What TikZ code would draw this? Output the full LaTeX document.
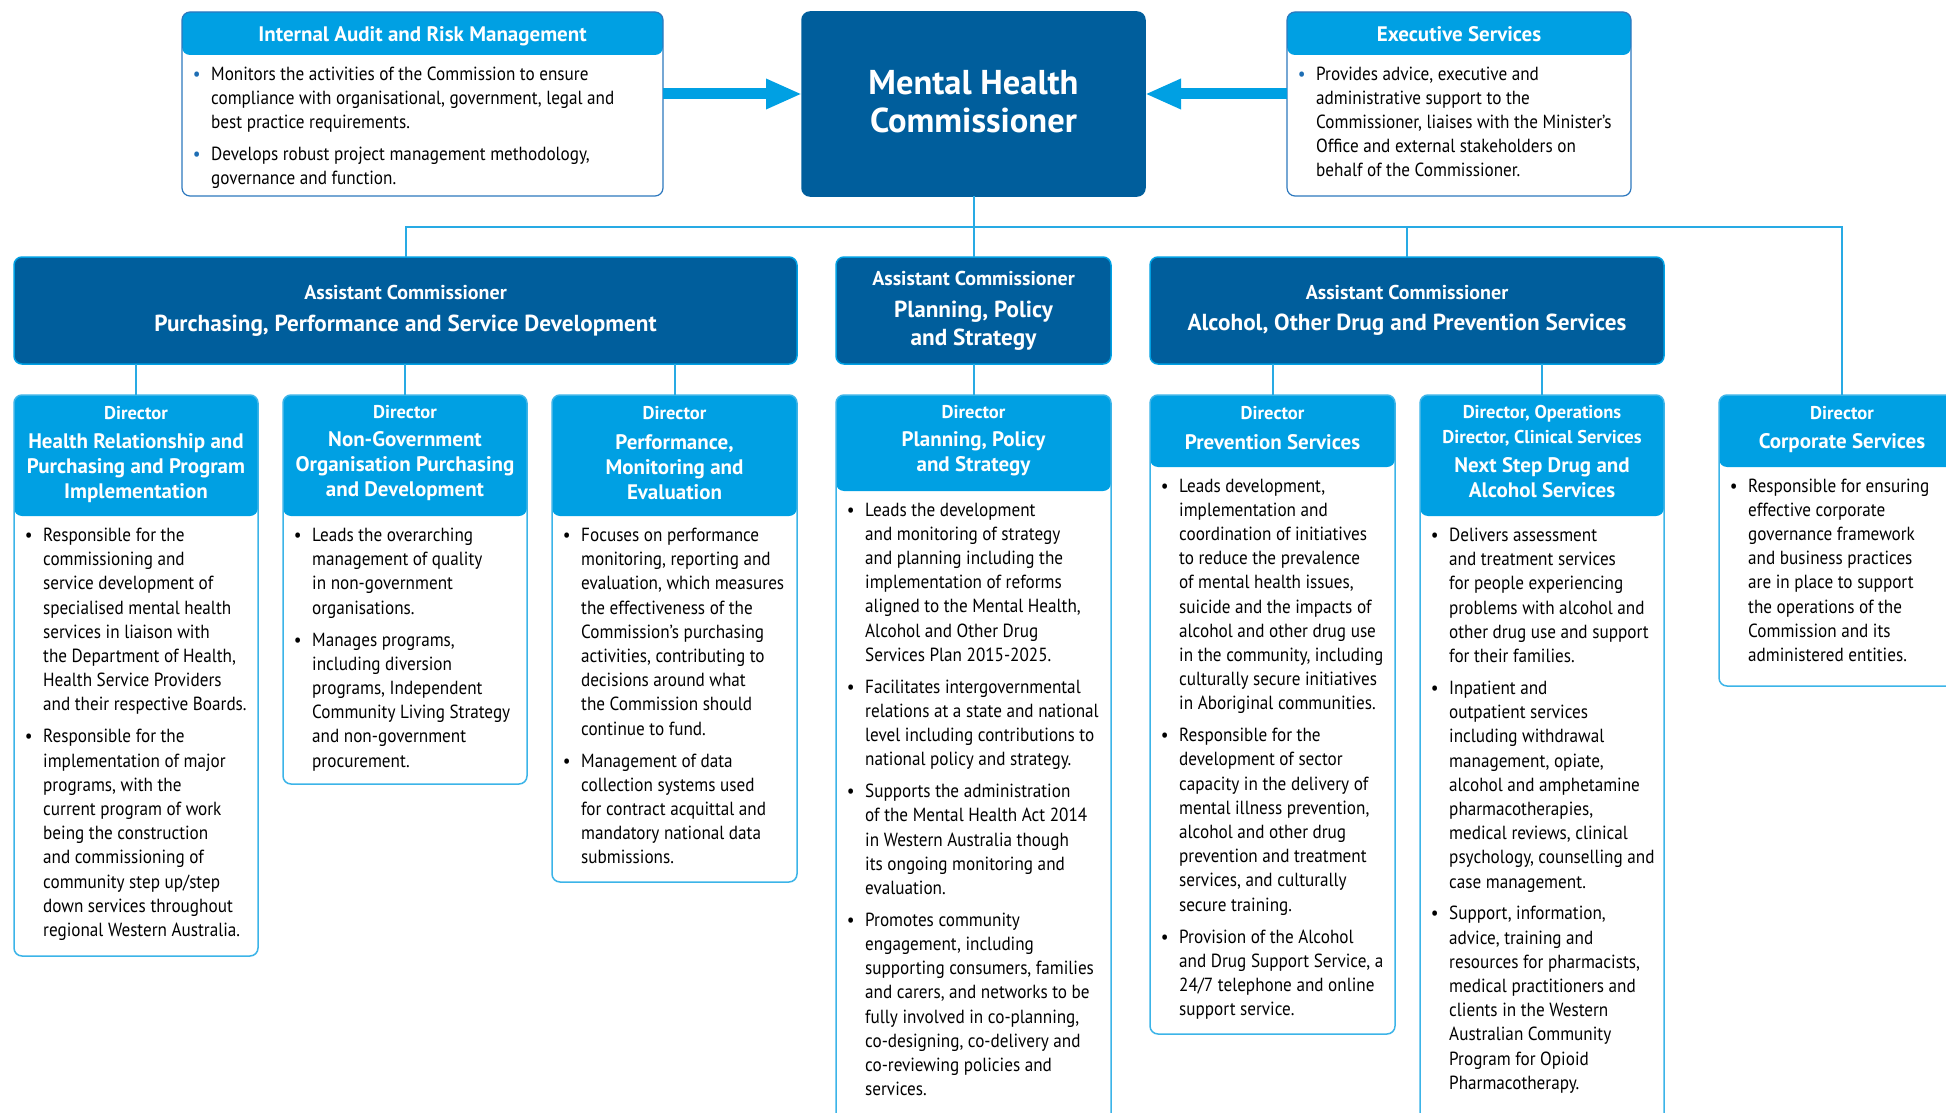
\documentclass[tikz,border=0pt]{standalone}
\usepackage{fontspec}
\setmainfont{PT Sans}[FakeStretch=0.903]
\newfontfamily\hfont{PT Sans}
\usetikzlibrary{arrows.meta}
\definecolor{dkblue}{RGB}{0,94,156}
\definecolor{ltblue}{RGB}{0,160,227}
\definecolor{lnblue}{RGB}{40,170,228}
\definecolor{bdblue}{RGB}{60,180,232}
\definecolor{topbd}{RGB}{45,120,190}
\definecolor{bulblue}{RGB}{30,110,180}
\newcommand\bul{\makebox[29pt][c]{\textbullet}}
\newcommand\tbul{\makebox[29pt][c]{\textcolor{bulblue}{\textbullet}}}
\newcommand\ctab[1]{\begin{tabular}[t]{@{}c@{}}#1\end{tabular}}
\newcommand\btab[1]{\begin{tabular}[t]{@{}l@{}l@{}}#1\end{tabular}}
\begin{document}
\begin{tikzpicture}[x=1pt,y=-1pt,
  dbox/.style={rectangle, rounded corners=8pt, inner sep=0pt, outer sep=0pt, draw=bdblue, line width=1.5pt, fill=white},
  topbox/.style={dbox, draw=topbd, line width=1.2pt},
  hdr/.style={path picture={\fill[ltblue] (path picture bounding box.north west) rectangle ([yshift=-#1pt]path picture bounding box.north east);}},
  dkbox/.style={rectangle, rounded corners=8pt, inner sep=0pt, outer sep=0pt, fill=dkblue, draw=ltblue, line width=1.5pt},
  conn/.style={draw=lnblue, line width=2pt},
  bigarrow/.style={draw=ltblue, line width=11pt, -{Triangle[length=36pt,width=28pt]}},
  body/.style={inner sep=0pt, anchor=base west, text=black, font=\fontsize{19}{24.2}\selectfont},
  tbody/.style={body, font=\fontsize{19}{24}\selectfont},
  wtxt/.style={inner sep=0pt, anchor=base, text=white},
  dirl/.style={wtxt, font=\hfont\bfseries\fontsize{18.5}{25}\selectfont},
  dirt/.style={wtxt, font=\hfont\bfseries\fontsize{21}{25}\selectfont},
  acl/.style={wtxt, font=\hfont\bfseries\fontsize{20}{24}\selectfont},
  act/.style={wtxt, font=\hfont\bfseries\fontsize{23.2}{28}\selectfont},
  mhct/.style={wtxt, font=\hfont\bfseries\fontsize{34.5}{38}\selectfont},
  toph/.style={wtxt, font=\hfont\bfseries\fontsize{21}{23}\selectfont}]
\clip (0,0) rectangle (1946,1113);
\fill[white] (0,0) rectangle (1946,1113);

% ---------- top row ----------
\node[topbox, hdr=43, minimum width=481pt, minimum height=184pt] (ia) at (422.5,104) {};
\node[dkbox, draw=dkblue, minimum width=343pt, minimum height=184pt] (mhc) at (973.5,104) {};
\node[topbox, hdr=43, minimum width=344pt, minimum height=184pt] (ex) at (1459,104) {};

\node[toph] (iah) at (422.5,41.7) {Internal Audit and Risk Management};
\node[toph] (exh) at (1459,41.7) {Executive Services};
\node[mhct] (mhct) at (973.5,95) {\ctab{Mental Health\\Commissioner}};

\node[tbody] (iab) at (182,81) {\btab{%
\tbul&Monitors the activities of the Commission to ensure\\
&compliance with organisational, government, legal and\\
&best practice requirements.\\[8pt]
\tbul&Develops robust project management methodology,\\
&governance and function.}};

\node[tbody] (exb) at (1287,81) {\btab{%
\tbul&Provides advice, executive and\\
&administrative support to the\\
&Commissioner, liaises with the Minister’s\\
&Office and external stakeholders on\\
&behalf of the Commissioner.}};

\coordinate (arry) at (0,94);
\draw[bigarrow] (ia.east |- arry) -- (mhc.west |- arry);
\draw[bigarrow] (ex.west |- arry) -- (mhc.east |- arry);

% ---------- assistant commissioners ----------
\node[dkbox, minimum width=783pt, minimum height=107pt] (ac1) at (405.5,310.5) {};
\node[dkbox, minimum width=275pt, minimum height=107pt] (ac2) at (973.5,310.5) {};
\node[dkbox, minimum width=514pt, minimum height=107pt] (ac3) at (1407,310.5) {};

\node[acl] (ac1l) at (405.5,299) {Assistant Commissioner};
\node[act] (ac1t) at (405.5,331) {Purchasing, Performance and Service Development};
\node[acl] (ac2l) at (973.5,285) {Assistant Commissioner};
\node[act] (ac2t) at (973.5,317) {\ctab{Planning, Policy\\and Strategy}};
\node[acl] (ac3l) at (1407,299) {Assistant Commissioner};
\node[act] (ac3t) at (1407,330.5) {Alcohol, Other Drug and Prevention Services};

% ---------- directors ----------
\node[dbox, hdr=121, minimum width=244pt, minimum height=561pt] (d1) at (136,675.5) {};
\node[dbox, hdr=121, minimum width=244pt, minimum height=389pt] (d2) at (405,589.5) {};
\node[dbox, hdr=121, minimum width=245pt, minimum height=487pt] (d3) at (674.5,638.5) {};
\node[dbox, hdr=96, minimum width=275pt, minimum height=745pt] (d4) at (973.5,767.5) {};
\node[dbox, hdr=72, minimum width=245pt, minimum height=639pt] (d5) at (1272.5,714.5) {};
\node[dbox, hdr=121, minimum width=244pt, minimum height=745pt] (d6) at (1542,767.5) {};
\node[dbox, hdr=72, minimum width=246pt, minimum height=291pt] (d7) at (1842,540.5) {};

% ---------- connectors ----------
\coordinate (bus) at (0,227);
\draw[conn] (mhc.south) -- (mhc.south |- bus);
\draw[conn] (ac1.north) -- (ac1.north |- bus) -- (d7.north |- bus) -- (d7.north);
\draw[conn] (ac2.north) -- (ac2.north |- bus);
\draw[conn] (ac3.north) -- (ac3.north |- bus);
\draw[conn] (d1.north) -- (d1.north |- ac1.south);
\draw[conn] (d2.north) -- (d2.north |- ac1.south);
\draw[conn] (d3.north) -- (d3.north |- ac1.south);
\draw[conn] (d4.north) -- (d4.north |- ac2.south);
\draw[conn] (d5.north) -- (d5.north |- ac3.south);
\draw[conn] (d6.north) -- (d6.north |- ac3.south);

% ---------- director headers ----------
\node[dirl] (d1l) at (136,419) {Director};
\node[dirt] (d1t) at (136,448) {\ctab{Health Relationship and\\Purchasing and Program\\Implementation}};
\node[dirl] (d2l) at (405,418) {Director};
\node[dirt] (d2t) at (405,446.5) {\ctab{Non-Government\\Organisation Purchasing\\and Development}};
\node[dirl] (d3l) at (674.5,419) {Director};
\node[dirt] (d3t) at (674.5,449) {\ctab{Performance,\\Monitoring and\\Evaluation}};
\node[dirl] (d4l) at (973.5,418) {Director};
\node[dirt] (d4t) at (973.5,446.5) {\ctab{Planning, Policy\\and Strategy}};
\node[dirl] (d5l) at (1272.5,419) {Director};
\node[dirt] (d5t) at (1272.5,449) {Prevention Services};
\node[dirl] (d6l) at (1542,418) {\ctab{Director, Operations\\Director, Clinical Services}};
\node[dirt] (d6t) at (1542,472.5) {\ctab{Next Step Drug and\\Alcohol Services}};
\node[dirl] (d7l) at (1842,419) {Director};
\node[dirt] (d7t) at (1842,448) {Corporate Services};

% ---------- director bodies ----------
\node[body] (d1b) at (14,541.5) {\btab{%
\bul&Responsible for the\\
&commissioning and\\
&service development of\\
&specialised mental health\\
&services in liaison with\\
&the Department of Health,\\
&Health Service Providers\\
&and their respective Boards.\\[7.7pt]
\bul&Responsible for the\\
&implementation of major\\
&programs, with the\\
&current program of work\\
&being the construction\\
&and commissioning of\\
&community step up/step\\
&down services throughout\\
&regional Western Australia.}};

\node[body] (d2b) at (283,541.5) {\btab{%
\bul&Leads the overarching\\
&management of quality\\
&in non-government\\
&organisations.\\[7.7pt]
\bul&Manages programs,\\
&including diversion\\
&programs, Independent\\
&Community Living Strategy\\
&and non-government\\
&procurement.}};

\node[body] (d3b) at (552,541.5) {\btab{%
\bul&Focuses on performance\\
&monitoring, reporting and\\
&evaluation, which measures\\
&the effectiveness of the\\
&Commission’s purchasing\\
&activities, contributing to\\
&decisions around what\\
&the Commission should\\
&continue to fund.\\[7.7pt]
\bul&Management of data\\
&collection systems used\\
&for contract acquittal and\\
&mandatory national data\\
&submissions.}};

\node[body] (d4b) at (836,516) {\btab{%
\bul&Leads the development\\
&and monitoring of strategy\\
&and planning including the\\
&implementation of reforms\\
&aligned to the Mental Health,\\
&Alcohol and Other Drug\\
&Services Plan 2015-2025.\\[7.7pt]
\bul&Facilitates intergovernmental\\
&relations at a state and national\\
&level including contributions to\\
&national policy and strategy.\\[7.7pt]
\bul&Supports the administration\\
&of the Mental Health Act 2014\\
&in Western Australia though\\
&its ongoing monitoring and\\
&evaluation.\\[7.7pt]
\bul&Promotes community\\
&engagement, including\\
&supporting consumers, families\\
&and carers, and networks to be\\
&fully involved in co-planning,\\
&co-designing, co-delivery and\\
&co-reviewing policies and\\
&services.}};

\node[body] (d5b) at (1150,492) {\btab{%
\bul&Leads development,\\
&implementation and\\
&coordination of initiatives\\
&to reduce the prevalence\\
&of mental health issues,\\
&suicide and the impacts of\\
&alcohol and other drug use\\
&in the community, including\\
&culturally secure initiatives\\
&in Aboriginal communities.\\[7.7pt]
\bul&Responsible for the\\
&development of sector\\
&capacity in the delivery of\\
&mental illness prevention,\\
&alcohol and other drug\\
&prevention and treatment\\
&services, and culturally\\
&secure training.\\[7.7pt]
\bul&Provision of the Alcohol\\
&and Drug Support Service, a\\
&24/7 telephone and online\\
&support service.}};

\node[body] (d6b) at (1420,541.5) {\btab{%
\bul&Delivers assessment\\
&and treatment services\\
&for people experiencing\\
&problems with alcohol and\\
&other drug use and support\\
&for their families.\\[7.7pt]
\bul&Inpatient and\\
&outpatient services\\
&including withdrawal\\
&management, opiate,\\
&alcohol and amphetamine\\
&pharmacotherapies,\\
&medical reviews, clinical\\
&psychology, counselling and\\
&case management.\\[7.7pt]
\bul&Support, information,\\
&advice, training and\\
&resources for pharmacists,\\
&medical practitioners and\\
&clients in the Western\\
&Australian Community\\
&Program for Opioid\\
&Pharmacotherapy.}};

\node[body] (d7b) at (1719,492) {\btab{%
\bul&Responsible for ensuring\\
&effective corporate\\
&governance framework\\
&and business practices\\
&are in place to support\\
&the operations of the\\
&Commission and its\\
&administered entities.}};
\end{tikzpicture}
\end{document}
